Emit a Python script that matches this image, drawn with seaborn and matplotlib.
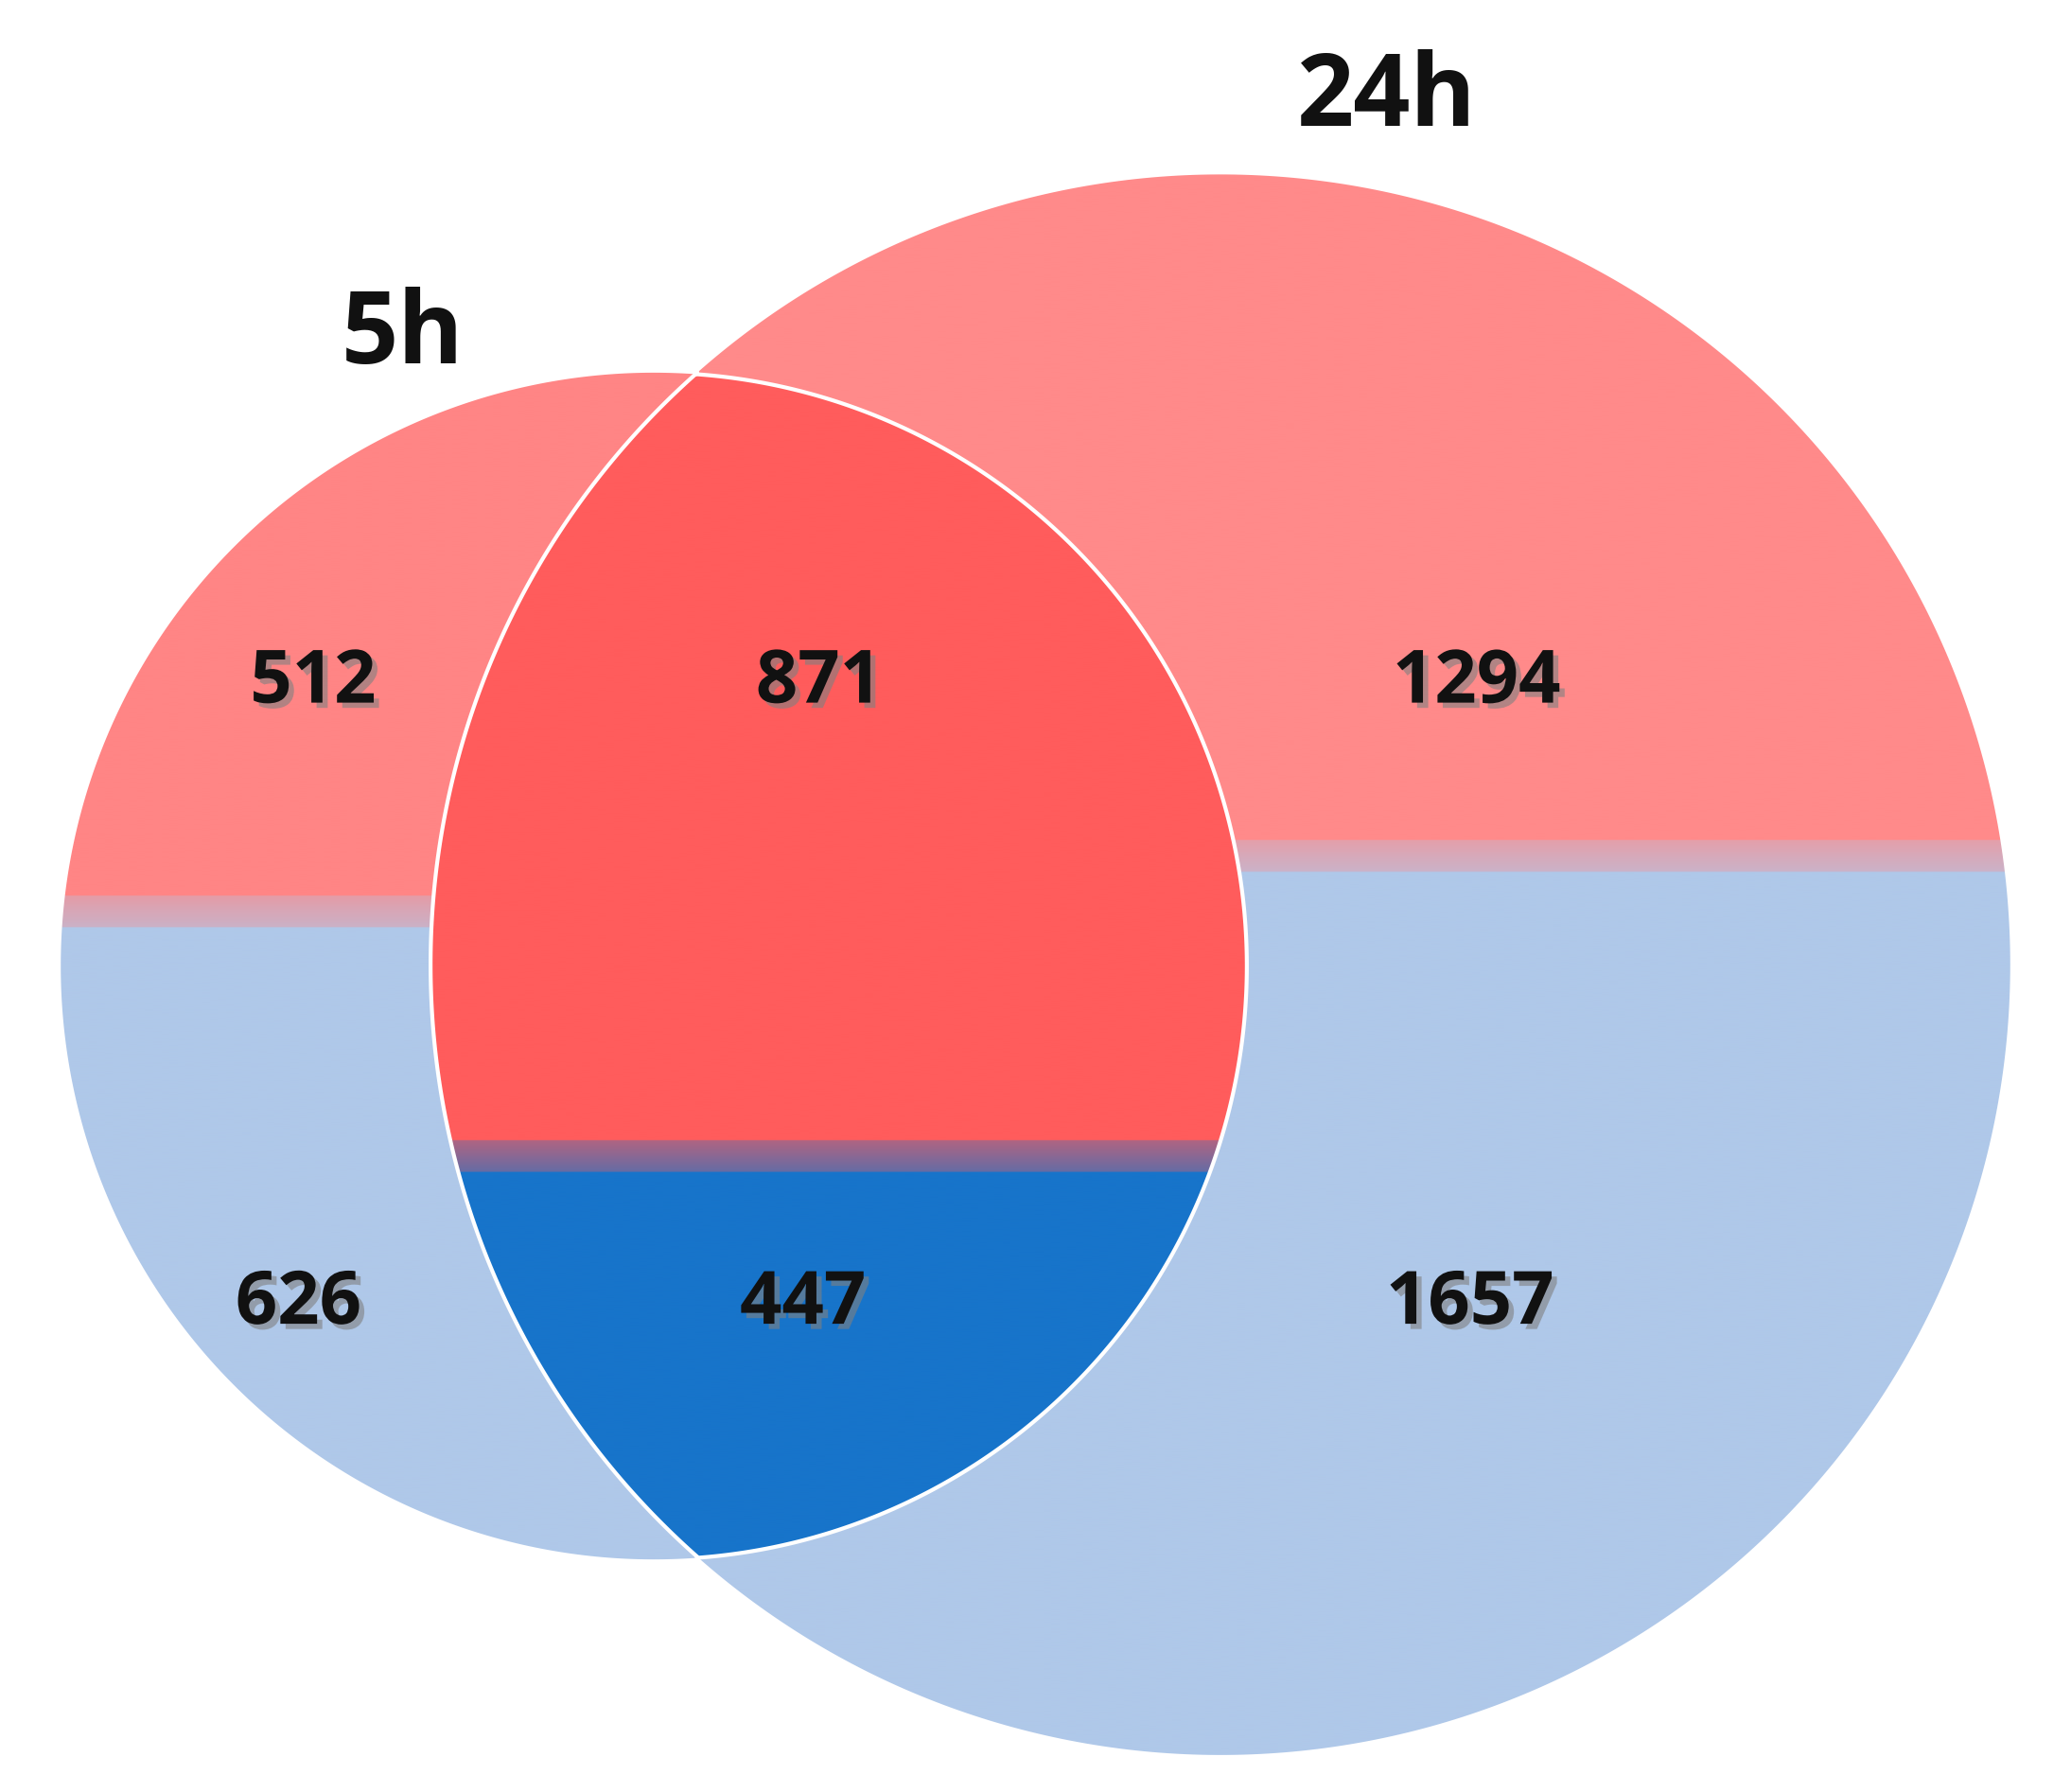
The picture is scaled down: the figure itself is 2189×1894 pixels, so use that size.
import numpy as np
import matplotlib
matplotlib.use("Agg")
import matplotlib.pyplot as plt
import matplotlib.patheffects as pe
from matplotlib.path import Path
from matplotlib.colors import LinearSegmentedColormap
import seaborn as sns

sns.set_style("white")
plt.rcParams['font.family'] = ['Open Sans', 'DejaVu Sans']

set_names = ["5h", "24h"]
region_labels = ["5h only up", "shared up", "24h only up", "5h only down", "shared down", "24h only down"]
region_counts = [512, 871, 1294, 626, 447, 1657]

# geometry (display units, y down)
c1, r1 = (495.0, 731.0), 449.0
c2, r2 = (924.0, 730.0), 598.0

fig = plt.figure(figsize=(21.89, 18.94), dpi=100)
ax = fig.add_axes([0, 0, 1, 1])
ax.set_xlim(0, 1568); ax.set_ylim(1356, 0); ax.axis("off")

def circ_path(c, r, a0=0, a1=2*np.pi, n=600):
    t = np.linspace(a0, a1, n)
    return np.column_stack([c[0] + r*np.cos(t), c[1] + r*np.sin(t)])

# intersection points
d = c2[0]-c1[0]
a = (d**2 + r1**2 - r2**2)/(2*d)
h = np.sqrt(r1**2 - a**2)
px = c1[0]+a
A1 = np.arctan2(h, a)
A2 = np.arctan2(h, px-c2[0])
arc1 = circ_path(c1, r1, -A1, A1)             # small circle right arc
arc2 = circ_path(c2, r2, A2, 2*np.pi-A2)      # large circle left arc (bottom->top)
lens = np.vstack([arc1, arc2])

def grad_fill(poly, top, bot, split, z):
    cmap = LinearSegmentedColormap.from_list("g", [top, top, bot, bot],)
    ys = np.linspace(0, 1356, 1356)
    w = 12.0
    v = np.clip((ys - (split - w))/(2*w), 0, 1)
    grad = np.where(v <= 0, 0.0, np.where(v >= 1, 1.0, 0.34 + 0.32*v))
    img = ax.imshow(grad[:, None], extent=(0, 1568, 1356, 0), aspect="auto",
                    cmap=LinearSegmentedColormap.from_list("g", [top, bot]), vmin=0, vmax=1,
                    zorder=z, interpolation="bilinear")
    patch = plt.Polygon(poly, closed=True, facecolor="none", edgecolor="none", transform=ax.transData)
    ax.add_patch(patch)
    img.set_clip_path(patch)

grad_fill(circ_path(c1, r1), "#FF8585", "#AFC8E9", 690, 1)
grad_fill(circ_path(c2, r2), "#FF8A8A", "#AFC8E9", 648, 2)
grad_fill(lens, "#FF5C5C", "#1774CA", 875, 3)
ax.add_patch(plt.Polygon(lens, closed=True, facecolor="none", edgecolor="white", lw=3, zorder=4))

shadow = [pe.SimplePatchShadow(offset=(4, -4), shadow_rgbFace="gray", alpha=0.6), pe.Normal()]
pos = [(237, 517), (620, 517), (1118, 517), (226, 987), (608, 987), (1113, 987)]
for (x, y), v in zip(pos, region_counts):
    ax.text(x, y, str(v), ha="center", va="center", fontsize=56, fontweight="bold",
            color="#111111", zorder=5, path_effects=shadow)
ax.text(305, 255, set_names[0], ha="center", va="center", fontsize=76, fontweight="bold", color="#111111", zorder=5)
ax.text(1050, 75, set_names[1], ha="center", va="center", fontsize=76, fontweight="bold", color="#111111", zorder=5)

fig.savefig("out.png", dpi=100, facecolor="white")
